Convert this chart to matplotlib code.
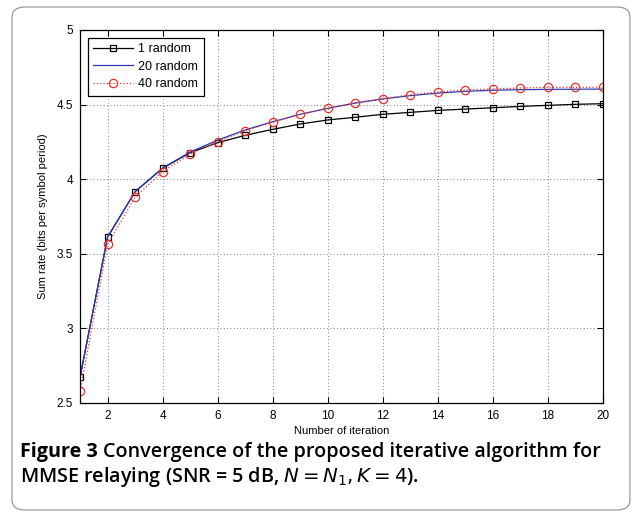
import numpy as np
import matplotlib
matplotlib.use('Agg')
import matplotlib.pyplot as plt
from matplotlib.patches import FancyBboxPatch

iters = list(range(1, 21))
rate_1 = [2.672, 3.611, 3.916, 4.073, 4.178, 4.245, 4.294, 4.334, 4.370, 4.397,
          4.415, 4.435, 4.448, 4.461, 4.470, 4.479, 4.488, 4.495, 4.502, 4.506]
rate_20 = [2.672, 3.611, 3.916, 4.075, 4.182, 4.262, 4.330, 4.385, 4.435, 4.475,
           4.510, 4.538, 4.560, 4.577, 4.589, 4.596, 4.600, 4.602, 4.603, 4.604]
rate_40 = [2.580, 3.563, 3.879, 4.051, 4.167, 4.252, 4.325, 4.381, 4.435, 4.475,
           4.513, 4.540, 4.566, 4.584, 4.598, 4.605, 4.611, 4.616, 4.616, 4.616]
labels = ['1 random', '20 random', '40 random']
xticks = list(range(2, 21, 2))
yticks = [2.5, 3, 3.5, 4, 4.5, 5]

plt.rcParams['font.family'] = ['Liberation Sans', 'DejaVu Sans']
fig = plt.figure(figsize=(6.35, 5.16), dpi=100)

# rounded frame round the whole figure
frame = FancyBboxPatch((12 / 635, 6 / 516), 618 / 635, 503 / 516,
                       boxstyle='round,pad=0,rounding_size=0.02',
                       transform=fig.transFigure, fill=False,
                       edgecolor='#8c8c8c', linewidth=0.8)
fig.patches.append(frame)

ax = fig.add_axes([80 / 635, 1 - 403 / 516, 523 / 635, 373 / 516])
ax.plot(iters, rate_1, '-s', color='black', lw=0.9, ms=5,
        mfc='none', mew=0.9, label=labels[0])
ax.plot(iters, rate_20, '-', color='#2b3cb8', lw=0.9, label=labels[1])
ax.plot(iters, rate_40, ':o', color='#e8322a', lw=0.9, ms=6,
        mfc='none', mew=0.9, label=labels[2])

ax.set_xlim(1, 20)
ax.set_ylim(2.5, 5)
ax.set_xticks(xticks)
ax.set_yticks(yticks)
ax.set_yticklabels(['2.5', '3', '3.5', '4', '4.5', '5'])
ax.tick_params(direction='in', top=True, right=True, labelsize=8.5,
               length=4, width=0.8, pad=5)
ax.grid(True, linestyle=(0, (1, 3)), color='#555555', linewidth=0.6)
for s in ax.spines.values():
    s.set_linewidth(0.9)
ax.set_xlabel('Number of iteration', fontsize=8, labelpad=3)
ax.set_ylabel('Sum rate (bits per symbol period)', fontsize=8, labelpad=6)

leg = ax.legend(loc='upper left', fontsize=9, fancybox=False, framealpha=1,
                edgecolor='black', handlelength=3.2, handletextpad=0.4,
                borderaxespad=0.6, borderpad=0.45, labelspacing=0.45)
leg.get_frame().set_linewidth(0.9)

cap_font = ['Open Sans', 'DejaVu Sans']
cap_size = 14.2
t1 = fig.text(20 / 635, 1 - 452 / 516, 'Figure 3', fontsize=cap_size,
              va='center', family=cap_font, fontweight='bold')
fig.canvas.draw()
bb = t1.get_window_extent()
fig.text((bb.x1 + 5) / 635, 1 - 452 / 516,
         'Convergence of the proposed iterative algorithm for',
         fontsize=cap_size, va='center', family=cap_font, fontweight='semibold')
fig.text(20 / 635, 1 - 477 / 516,
         r'MMSE relaying (SNR = 5 dB, $N = N_1, K = 4$).',
         fontsize=cap_size, va='center', family=cap_font, fontweight='semibold')

fig.savefig('out.png', dpi=100)
